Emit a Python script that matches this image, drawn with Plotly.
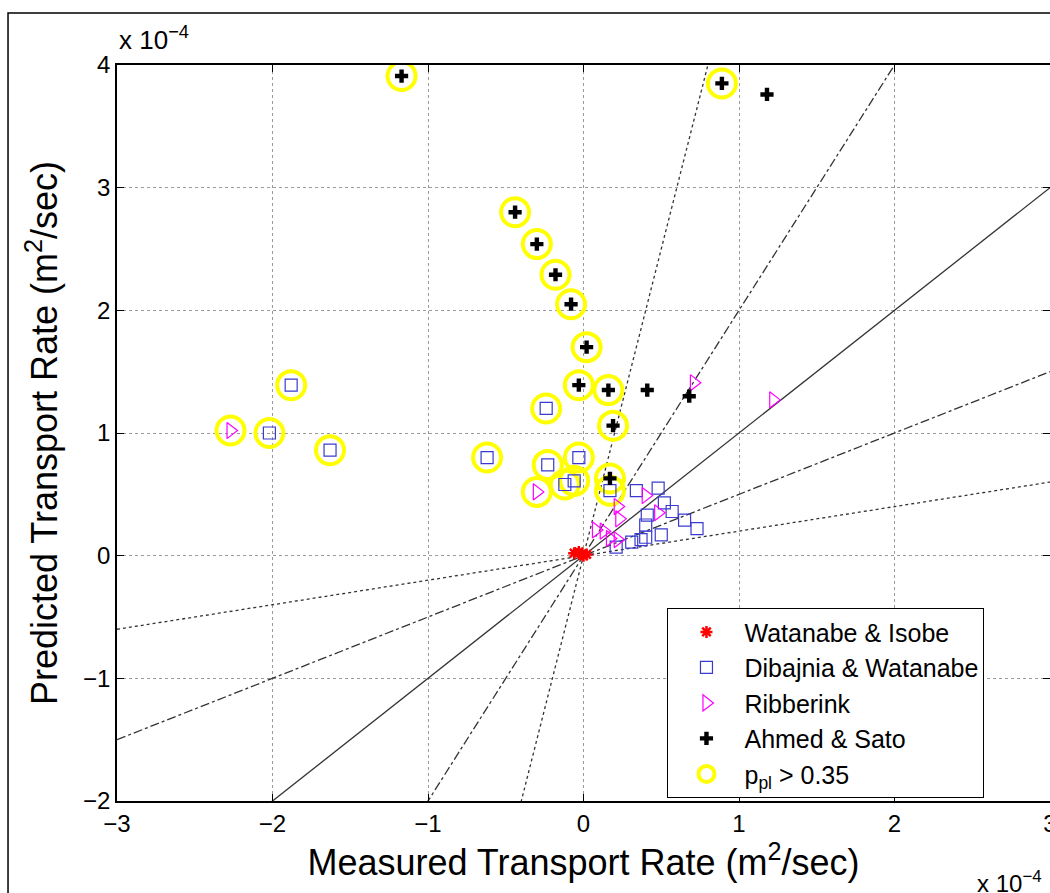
import plotly.graph_objects as go

# values in units of 1e-4 m^2/sec
wi_x = [-0.06, -0.03, -0.01, 0.00, 0.02]
wi_y = [0.02, 0.03, 0.01, 0.00, 0.01]

dw_x = [-1.88, -2.02, -1.63, -0.62, -0.24, -0.23, -0.03, -0.12, -0.06, 0.17,
        0.34, 0.48, 0.52, 0.57, 0.65, 0.73, 0.41, 0.40, 0.50, 0.40, 0.31, 0.21, 0.37]
dw_y = [1.39, 1.00, 0.86, 0.80, 1.20, 0.74, 0.80, 0.58, 0.61, 0.53,
        0.53, 0.55, 0.43, 0.36, 0.29, 0.22, 0.33, 0.25, 0.17, 0.15, 0.11, 0.07, 0.13]
dw_p = [1, 1, 1, 1, 1, 1, 1, 1, 1, 1,
        0, 0, 0, 0, 0, 0, 0, 0, 0, 0, 0, 0, 0]

rb_x = [-2.27, -0.30, 0.71, 1.22, 0.40, 0.22, 0.23, 0.48, 0.13, 0.08, 0.17, 0.22]
rb_y = [1.02, 0.52, 1.41, 1.27, 0.49, 0.40, 0.30, 0.35, 0.20, 0.21, 0.14, 0.13]
rb_p = [1, 1, 0, 0, 0, 0, 0, 0, 0, 0, 0, 0]

as_x = [-1.17, 0.89, 1.18, -0.44, -0.30, -0.18, -0.08, 0.02, -0.03, 0.16, 0.41, 0.68, 0.19, 0.17]
as_y = [3.91, 3.85, 3.76, 2.80, 2.54, 2.29, 2.05, 1.70, 1.39, 1.35, 1.35, 1.30, 1.06, 0.63]
as_p = [1, 1, 0, 1, 1, 1, 1, 1, 1, 1, 0, 0, 1, 1]

ref_slopes = [1, 2, 0.5, 5, 0.2]
ref_dash = ["solid", "dashdot", "dashdot", "dot", "dot"]
line_x = [-3, 3]

x_ticks = [-3, -2, -1, 0, 1, 2, 3]
y_ticks = [-2, -1, 0, 1, 2, 3, 4]

FONT = "Liberation Sans, Arial, sans-serif"
fig = go.Figure()

for k, d in zip(ref_slopes, ref_dash):
    fig.add_trace(go.Scatter(x=line_x, y=[k * v for v in line_x], mode="lines",
                             line=dict(color="#333333", width=1.3, dash=d),
                             showlegend=False, hoverinfo="skip"))

cx, cy = [], []
for xs, ys, ps in [(dw_x, dw_y, dw_p), (rb_x, rb_y, rb_p), (as_x, as_y, as_p)]:
    for a, b, p in zip(xs, ys, ps):
        if p:
            cx.append(a)
            cy.append(b)

fig.add_trace(go.Scatter(x=cx, y=cy, mode="markers", name="p<sub>pl</sub> > 0.35",
                         legendrank=5,
                         marker=dict(symbol="circle-open", size=28, color="#ffff00",
                                     line=dict(width=4, color="#ffff00"))))
fig.add_trace(go.Scatter(x=wi_x, y=wi_y, mode="markers", name="Watanabe & Isobe",
                         legendrank=1,
                         marker=dict(symbol="asterisk-open", size=10, color="#ff0000",
                                     line=dict(width=2.5, color="#ff0000"))))
fig.add_trace(go.Scatter(x=dw_x, y=dw_y, mode="markers", name="Dibajnia & Watanabe",
                         legendrank=2,
                         marker=dict(symbol="square-open", size=12, color="#3a3ad0",
                                     line=dict(width=1.2))))
fig.add_trace(go.Scatter(x=rb_x, y=rb_y, mode="markers", name="Ribberink",
                         legendrank=3,
                         marker=dict(symbol="triangle-right-open", size=14, color="#ff00ff",
                                     line=dict(width=1.2))))
fig.add_trace(go.Scatter(x=as_x, y=as_y, mode="markers", name="Ahmed & Sato",
                         legendrank=4,
                         marker=dict(symbol="cross", size=11, color="#000000")))

axis_common = dict(showline=True, linecolor="black", linewidth=1.5, mirror="allticks",
                   ticks="inside", ticklen=7, tickcolor="black", zeroline=False,
                   showgrid=True, gridcolor="#9a9a9a", griddash="dot", gridwidth=1,
                   ticklabeloverflow="allow", automargin=False,
                   tickfont=dict(family=FONT, size=24, color="black"))

fig.update_xaxes(range=[-3, 3], tickvals=x_ticks, ticktext=[str(t).replace("-", "\u2212") for t in x_ticks],
                 title=dict(text="Measured Transport Rate (m<sup>2</sup>/sec)",
                            font=dict(family=FONT, size=36, color="black"), standoff=8),
                 **axis_common)
fig.update_yaxes(range=[-2, 4], tickvals=y_ticks, ticktext=[str(t).replace("-", "\u2212") for t in y_ticks],
                 title=dict(text="Predicted Transport Rate (m<sup>2</sup>/sec)",
                            font=dict(family=FONT, size=36, color="black"), standoff=14),
                 **axis_common)

fig.update_layout(
    width=1050, height=893,
    margin=dict(l=117, r=0, t=65, b=92),
    plot_bgcolor="white", paper_bgcolor="white",
    font=dict(family=FONT, color="black"),
    legend=dict(x=0.59, y=0.262, xanchor="left", yanchor="top",
                bgcolor="white", bordercolor="black", borderwidth=1,
                font=dict(family=FONT, size=25, color="black"),
                itemwidth=66, itemsizing="trace"),
    annotations=[
        dict(text="x 10<sup>\u22124</sup>", x=0, y=1, xref="paper", yref="paper",
             xanchor="left", yanchor="bottom", showarrow=False, yshift=8,
             font=dict(family=FONT, size=26, color="black")),
        dict(text="x 10<sup>\u22124</sup>", x=0.92, y=0, xref="paper", yref="paper",
             xanchor="left", yanchor="top", showarrow=False, yshift=-64,
             font=dict(family=FONT, size=24, color="black")),
    ],
    shapes=[dict(type="rect", xref="paper", yref="paper", x0=-0.1168, x1=1.1,
                 y0=-0.3, y1=1.0707, line=dict(color="black", width=1.5))],
)

fig.write_html("out.html")
